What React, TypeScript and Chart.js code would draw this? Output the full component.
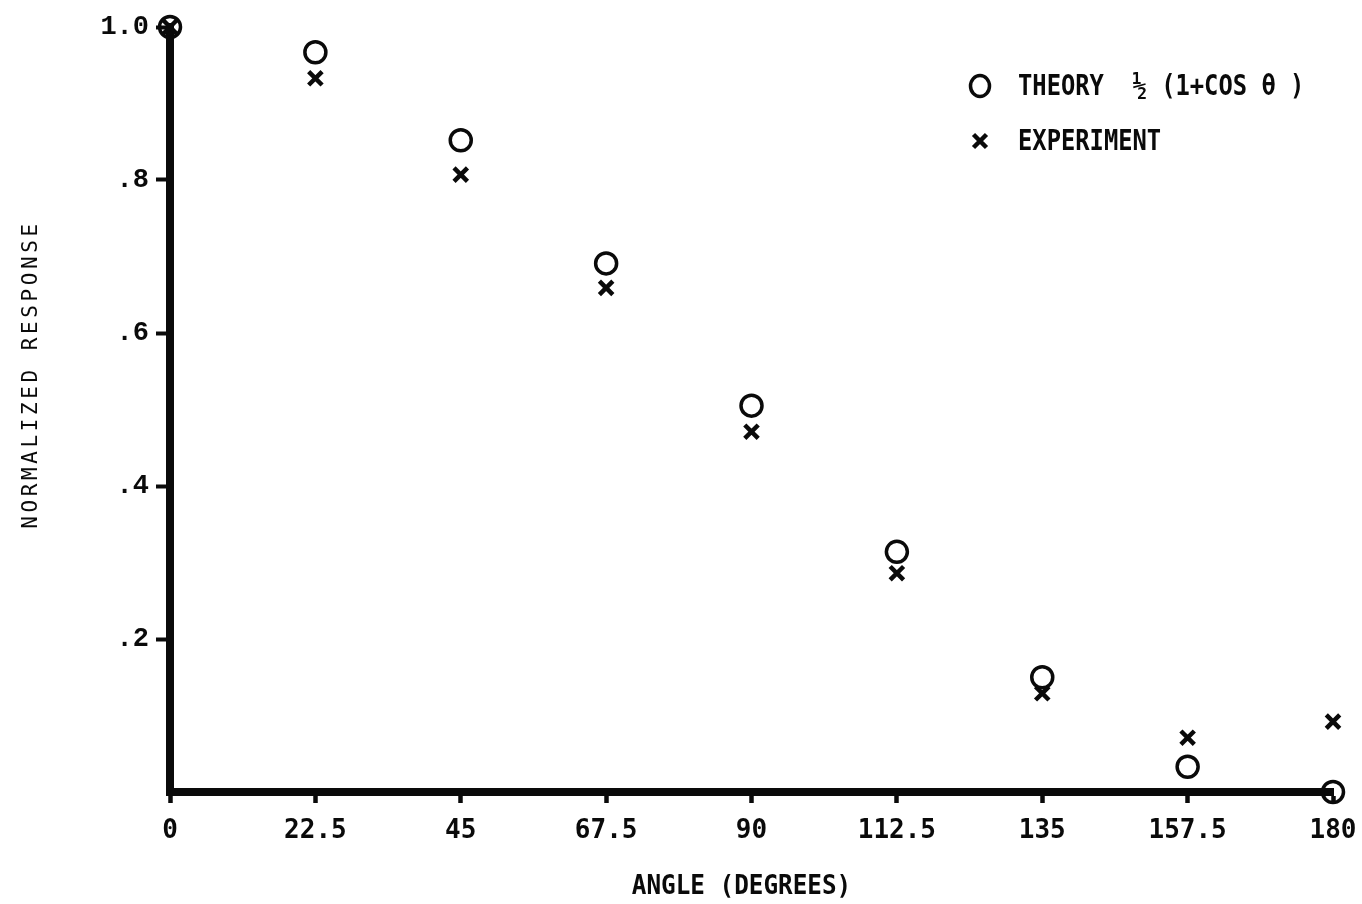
import React, { useEffect, useRef } from "react";
import { Chart, registerables } from "chart.js";

Chart.register(...registerables);

const angles = [0, 22.5, 45, 67.5, 90, 112.5, 135, 157.5, 180];
const theory = [1.0, 0.967, 0.852, 0.691, 0.505, 0.314, 0.15, 0.033, 0.0];
const experiment = [1.0, 0.933, 0.807, 0.659, 0.471, 0.286, 0.129, 0.071, 0.092];
const xTickLabels = ["0", "22.5", "45", "67.5", "90", "112.5", "135", "157.5", "180"];
const yTickLabels = ["", ".2", ".4", ".6", ".8", "1.0"];
const xTitle = "ANGLE (DEGREES)";
const yTitle = "NORMALIZED RESPONSE";
const legendLabels = ["THEORY  \u00BD (1+COS \u03B8 )", "EXPERIMENT"];

const INK = "#0a0a0a";

const overlayPlugin = {
  id: "overlay",
  afterDraw(chart: any) {
    const ctx: CanvasRenderingContext2D = chart.ctx;
    const area = chart.chartArea;
    ctx.save();
    ctx.fillStyle = INK;
    ctx.strokeStyle = INK;

    // X axis title
    ctx.save();
    ctx.font = 'bold 27px "DejaVu Sans Mono"';
    ctx.textAlign = "center";
    ctx.textBaseline = "middle";
    ctx.translate((area.left + area.right) / 2 - 10, chart.height - 17);
    ctx.scale(0.9, 1);
    ctx.fillText(xTitle, 0, 0);
    ctx.restore();

    // Y axis title
    ctx.save();
    ctx.translate(32, (area.top + area.bottom) / 2 - 35);
    ctx.rotate(-Math.PI / 2);
    ctx.font = '21px "DejaVu Sans Mono"';
    ctx.textAlign = "center";
    ctx.textBaseline = "middle";
    (ctx as any).letterSpacing = "3.6px";
    ctx.fillText(yTitle, 0, 0);
    ctx.restore();

    // Legend
    const lx = 980;
    const ly = [86, 141];
    ctx.lineWidth = 3.5;
    ctx.beginPath();
    ctx.ellipse(lx, ly[0], 9.5, 10.5, 0, 0, Math.PI * 2);
    ctx.stroke();
    ctx.lineWidth = 4.5;
    ctx.beginPath();
    ctx.moveTo(lx - 6.5, ly[1] - 6.5);
    ctx.lineTo(lx + 6.5, ly[1] + 6.5);
    ctx.moveTo(lx + 6.5, ly[1] - 6.5);
    ctx.lineTo(lx - 6.5, ly[1] + 6.5);
    ctx.stroke();

    ctx.textAlign = "left";
    ctx.textBaseline = "middle";
    ctx.font = 'bold 29px "DejaVu Sans Mono"';
    legendLabels.forEach((lab, i) => {
      ctx.save();
      ctx.translate(1018, ly[i] + 1);
      ctx.scale(0.82, 1);
      ctx.fillText(lab, 0, 0);
      ctx.restore();
    });
    ctx.restore();
  },
};

export default function App() {
  const canvasRef = useRef<HTMLCanvasElement | null>(null);

  useEffect(() => {
    if (!canvasRef.current) return;
    const chart = new Chart(canvasRef.current, {
      type: "scatter",
      data: {
        datasets: [
          {
            label: "THEORY",
            data: angles.map((a, i) => ({ x: a, y: theory[i] })),
            pointStyle: "circle",
            pointRadius: 10.5,
            pointBorderWidth: 3.5,
            pointBorderColor: INK,
            pointBackgroundColor: "rgba(0,0,0,0)",
            showLine: false,
            clip: false as any,
          },
          {
            label: "EXPERIMENT",
            data: angles.map((a, i) => ({ x: a, y: experiment[i] })),
            pointStyle: "crossRot",
            pointRadius: 9.5,
            pointBorderWidth: 4.5,
            pointBorderColor: INK,
            pointBackgroundColor: INK,
            showLine: false,
            clip: false as any,
          },
        ],
      },
      options: {
        responsive: false,
        animation: false,
        events: [],
        layout: { autoPadding: false, padding: { left: 0, right: 29, top: 27, bottom: 0 } },
        plugins: {
          legend: { display: false },
          tooltip: { enabled: false },
          title: { display: false },
        },
        scales: {
          x: {
            type: "linear",
            min: 0,
            max: 180,
            afterFit: (s: any) => {
              s.height = 112;
              s.paddingLeft = 0;
              s.paddingRight = 0;
            },
            border: { display: true, color: INK, width: 8 },
            grid: {
              drawOnChartArea: false,
              drawTicks: true,
              tickLength: 11,
              tickWidth: 4.5,
              tickColor: INK,
              color: INK,
            },
            ticks: {
              stepSize: 22.5,
              autoSkip: false,
              maxRotation: 0,
              padding: 13,
              color: INK,
              font: { family: '"DejaVu Sans Mono"', size: 26, weight: "bold" },
              callback: (_v: any, i: number) => xTickLabels[i],
            },
            title: { display: false },
          },
          y: {
            type: "linear",
            min: 0,
            max: 1,
            afterFit: (s: any) => {
              s.width = 170;
              s.paddingTop = 0;
              s.paddingBottom = 0;
            },
            border: { display: true, color: INK, width: 8 },
            grid: {
              drawOnChartArea: false,
              drawTicks: true,
              tickLength: 14,
              tickWidth: 4,
              tickColor: (c: any) => (c.tick && c.tick.value === 0 ? "rgba(0,0,0,0)" : INK),
              color: INK,
            },
            ticks: {
              stepSize: 0.2,
              autoSkip: false,
              padding: 7,
              color: INK,
              font: { family: '"Liberation Mono"', size: 27, weight: "bold" },
              callback: (_v: any, i: number) => yTickLabels[i],
            },
            title: { display: false },
          },
        },
      },
      plugins: [overlayPlugin],
    } as any);
    return () => chart.destroy();
  }, []);

  return (
    <div style={{ position: "absolute", left: 0, top: 0, width: 1362, height: 904, background: "#fff" }}>
      <canvas ref={canvasRef} width={1362} height={904} style={{ display: "block" }} />
    </div>
  );
}
